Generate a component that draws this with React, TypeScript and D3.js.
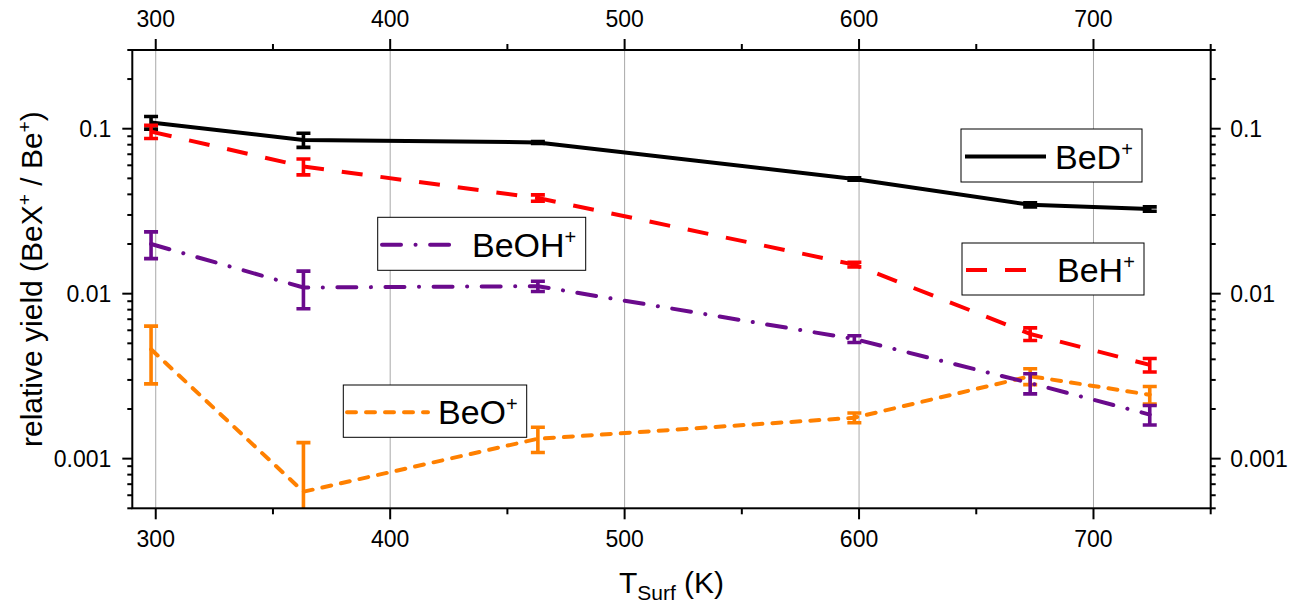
import React from 'react';
import * as d3 from 'd3';

// surface temperature (K)
const temps = [298, 363, 463, 598, 673, 724];

// relative yields and their errors
const beD = [0.109, 0.0855, 0.0826, 0.0496, 0.0346, 0.0326];
const beDErr = [0.0096, 0.0084, 0.0011, 0.0008, 0.001, 0.001];
const beH = [0.096, 0.059, 0.038, 0.015, 0.0057, 0.0037];
const beHErr = [0.0087, 0.0065, 0.0017, 0.0005, 0.0005, 0.00035];
const beO = [0.0046, 0.00063, 0.00132, 0.00177, 0.00316, 0.00244];
const beOErr = [0.00176, 0.00062, 0.00023, 0.00012, 0.00035, 0.0003];
const beOH = [0.02, 0.0109, 0.0111, 0.00531, 0.00287, 0.00185];
const beOHErr = [0.0037, 0.0028, 0.0008, 0.00025, 0.0004, 0.00025];

const xTickLabels = ['300', '400', '500', '600', '700'];
const yTickLabels = ['0.001', '0.01', '0.1'];

const FONT = '"Liberation Sans", Arial, sans-serif';
const W = 1306;
const H = 604;
const left = 132.3, right = 1210.7, top = 50, bottom = 508.3;

const x = d3.scaleLinear().domain([290, 750]).range([left, right]);
const y = d3.scaleLog().domain([0.0005, 0.3]).range([bottom, top]);

const series = [
  { name: 'BeD', vals: beD, errs: beDErr, color: '#000000', dash: null, cap: 'butt',
    legend: { x: 961, y: 129, w: 181, h: 53, lx1: 965, lx2: 1046, tx: 1055 } },
  { name: 'BeH', vals: beH, errs: beHErr, color: '#ff0000', dash: '21,18', cap: 'butt',
    legend: { x: 962, y: 243, w: 182, h: 52, lx1: 966, lx2: 1027, tx: 1057 } },
  { name: 'BeO', vals: beO, errs: beOErr, color: '#ff8000', dash: '9,10', cap: 'round',
    legend: { x: 343.3, y: 385, w: 183.4, h: 52.3, lx1: 347, lx2: 428, tx: 438 } },
  { name: 'BeOH', vals: beOH, errs: beOHErr, color: '#6a0a8c', dash: '19,14.5,0.1,14.5', cap: 'round',
    legend: { x: 377.7, y: 217.3, w: 208, h: 53, lx1: 382, lx2: 454, tx: 472 } },
];

const line = d3.line<[number, number]>()
  .x(d => x(d[0]))
  .y(d => y(d[1]));

const Superscript = ({ text, size, shift }: { text: string; size: number; shift: number }) => (
  <tspan fontSize={size} dy={-shift}>{text}</tspan>
);

export default function App() {
  const [y0, y1] = y.domain();
  const yTicks = y.ticks();
  const isMajor = (v: number) => Math.abs(Math.log10(v) - Math.round(Math.log10(v))) < 1e-6;
  const xMajor = d3.range(300, 701, 100);
  const xMinor = d3.range(350, 751, 100);

  return (
    <svg width={W} height={H} style={{ position: 'absolute', left: 0, top: 0, background: '#fff' }}
      fontFamily={FONT}>
      <defs>
        <clipPath id="plot">
          <rect x={left} y={top} width={right - left} height={bottom - top} />
        </clipPath>
      </defs>

      {/* vertical grid */}
      {xMajor.map(t => (
        <line key={'g' + t} x1={x(t)} x2={x(t)} y1={top} y2={bottom} stroke="#a8a8a8" strokeWidth={1} />
      ))}

      {/* data */}
      <g clipPath="url(#plot)">
        {series.map(s => (
          <g key={s.name}>
            <path d={line(temps.map((t, i) => [t, s.vals[i]]) as [number, number][]) || ''}
              fill="none" stroke={s.color} strokeWidth={4}
              strokeDasharray={s.dash || undefined} strokeLinecap={s.cap as any} strokeLinejoin="round" />
            {temps.map((t, i) => {
              const hi = s.vals[i] + s.errs[i];
              const lo = s.vals[i] - s.errs[i];
              const cx = x(t);
              const yHi = y(Math.min(hi, y1));
              const yLo = lo > y0 ? y(lo) : bottom + 5;
              return (
                <g key={i} stroke={s.color} strokeWidth={3.6}>
                  <line x1={cx} x2={cx} y1={yHi} y2={yLo} />
                  {hi <= y1 && <line x1={cx - 7} x2={cx + 7} y1={yHi} y2={yHi} />}
                  {lo > y0 && <line x1={cx - 7} x2={cx + 7} y1={yLo} y2={yLo} />}
                </g>
              );
            })}
          </g>
        ))}
      </g>

      {/* frame */}
      <rect x={left} y={top} width={right - left} height={bottom - top} fill="none" stroke="#000" strokeWidth={2} />

      {/* y ticks both sides */}
      {yTicks.map((t, i) => {
        const len = isMajor(t) ? 10 : 5;
        return (
          <g key={'y' + i} stroke="#000" strokeWidth={2}>
            <line x1={left - len} x2={left} y1={y(t)} y2={y(t)} />
            <line x1={right} x2={right + len} y1={y(t)} y2={y(t)} />
          </g>
        );
      })}
      {yTickLabels.map(l => (
        <g key={'yl' + l} fontSize={23} fill="#000">
          <text x={left - 21} y={y(+l) + 8} textAnchor="end">{l}</text>
          <text x={right + 19.5} y={y(+l) + 8} textAnchor="start">{l}</text>
        </g>
      ))}

      {/* x ticks top and bottom */}
      {xMajor.map(t => (
        <g key={'xt' + t} stroke="#000" strokeWidth={2}>
          <line x1={x(t)} x2={x(t)} y1={bottom} y2={bottom + 11} />
          <line x1={x(t)} x2={x(t)} y1={top} y2={top - 11} />
        </g>
      ))}
      {xMinor.map(t => (
        <g key={'xm' + t} stroke="#000" strokeWidth={2}>
          <line x1={x(t)} x2={x(t)} y1={bottom} y2={bottom + 6} />
          <line x1={x(t)} x2={x(t)} y1={top} y2={top - 6} />
        </g>
      ))}
      {xTickLabels.map(l => (
        <g key={'xl' + l} fontSize={23} fill="#000" textAnchor="middle">
          <text x={x(+l)} y={546.5}>{l}</text>
          <text x={x(+l)} y={26.7}>{l}</text>
        </g>
      ))}

      {/* axis titles */}
      <text transform={`translate(41.5, ${(top + bottom) / 2}) rotate(-90)`} textAnchor="middle" fontSize={30} fill="#000">
        relative yield (BeX<Superscript text="+" size={19} shift={11} /><tspan dy={11}> / Be</tspan>
        <Superscript text="+" size={19} shift={11} /><tspan dy={11}>)</tspan>
      </text>
      <text x={(left + right) / 2} y={592.7} textAnchor="middle" fontSize={30} fill="#000">
        T<tspan fontSize={21} dy={7}>Surf</tspan><tspan dy={-7}> (K)</tspan>
      </text>

      {/* legends */}
      {series.map(s => {
        const L = s.legend;
        const my = L.y + L.h / 2;
        return (
          <g key={'leg' + s.name}>
            <rect x={L.x} y={L.y} width={L.w} height={L.h} fill="#fff" stroke="#000" strokeWidth={1} />
            <line x1={L.lx1} x2={L.lx2} y1={my + 1} y2={my + 1} stroke={s.color} strokeWidth={4}
              strokeDasharray={s.dash || undefined} strokeLinecap={s.cap as any} />
            <text x={L.tx} y={my + 13} fontSize={34} fill="#000">
              {s.name}<tspan fontSize={20} dy={-13}>+</tspan>
            </text>
          </g>
        );
      })}
    </svg>
  );
}
